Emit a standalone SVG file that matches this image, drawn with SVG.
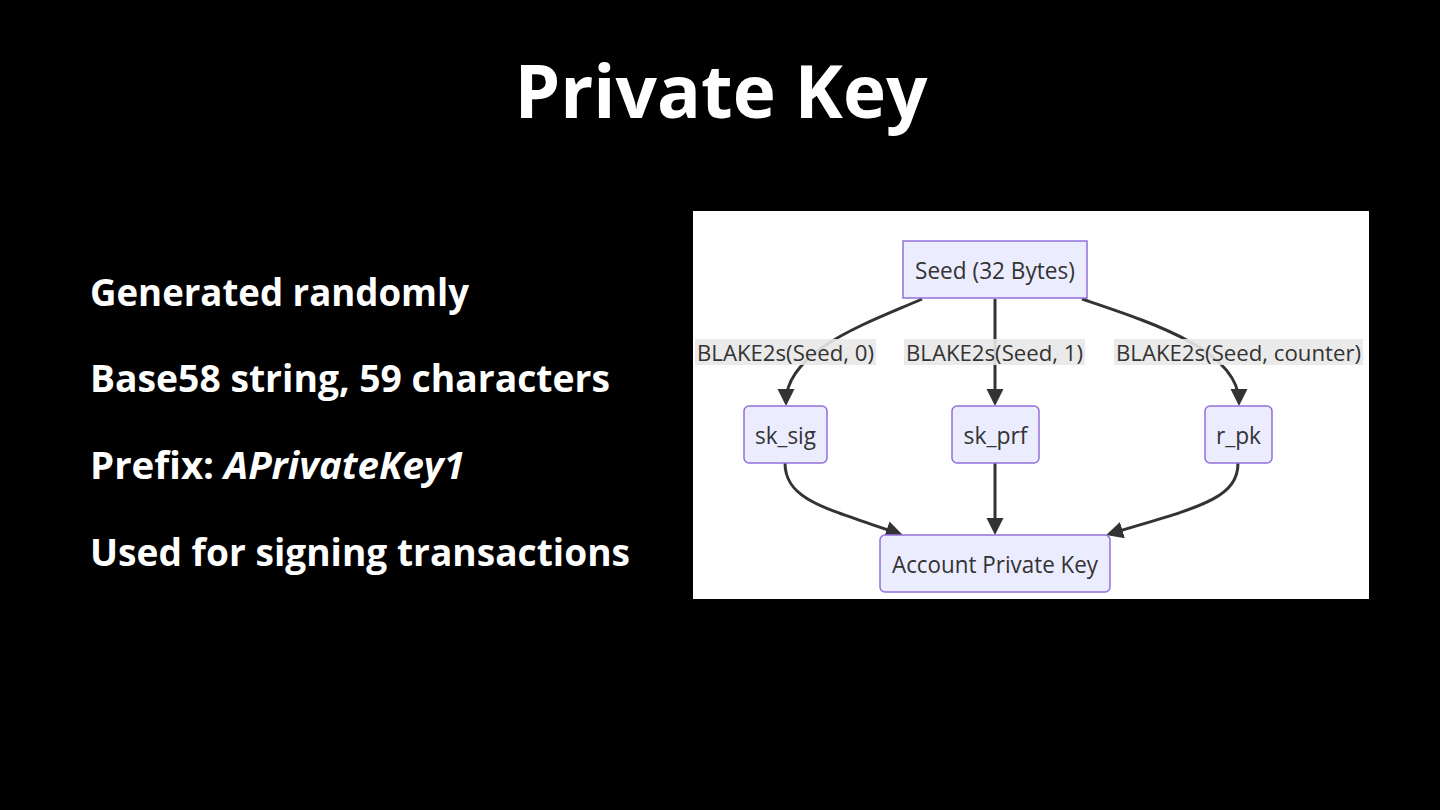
<svg xmlns="http://www.w3.org/2000/svg" width="1440" height="810" viewBox="0 0 1440 810">
<defs>
<style>
.title{font-family:"Open Sans","Liberation Sans",sans-serif;font-weight:700;font-size:74px;fill:#ffffff}
.bullet{font-family:"Open Sans","Liberation Sans",sans-serif;font-weight:700;font-size:38px;fill:#ffffff}
.node rect{fill:#ECECFF;stroke:#9370DB;stroke-width:1.5}
.node text{font-family:"Open Sans","Liberation Sans",sans-serif;font-size:23px;fill:#333333;text-anchor:middle;dominant-baseline:central}
.elabel rect{fill:#e8e8e8;opacity:0.9}
.elabel text{font-family:"Open Sans","Liberation Sans",sans-serif;font-size:22px;fill:#333333;text-anchor:middle;dominant-baseline:central}
.edge{fill:none;stroke:#333333;stroke-width:3}
</style>
<marker id="arrow" markerUnits="userSpaceOnUse" markerWidth="18" markerHeight="18" viewBox="0 0 18 18" refX="13" refY="8.5" orient="auto">
<path d="M0,0 L17,8.5 L0,17 Z" fill="#333333"/>
</marker>
</defs>
<rect x="0" y="0" width="1440" height="810" fill="#000000"/>
<text class="title" x="721" y="118" text-anchor="middle" textLength="413" lengthAdjust="spacingAndGlyphs">Private Key</text>
<g id="bullets">
<text class="bullet" x="90" y="306" textLength="379" lengthAdjust="spacingAndGlyphs">Generated randomly</text>
<text class="bullet" x="90" y="392" textLength="520" lengthAdjust="spacingAndGlyphs">Base58 string, 59 characters</text>
<text class="bullet" x="90" y="479" textLength="375" lengthAdjust="spacingAndGlyphs">Prefix: <tspan font-style="italic">APrivateKey1</tspan></text>
<text class="bullet" x="90" y="566" textLength="540" lengthAdjust="spacingAndGlyphs">Used for signing transactions</text>
</g>
<rect id="panel" x="693" y="211" width="676" height="388" fill="#ffffff"/>
<g id="connectors">
<path class="edge" d="M922,299 C870,322 786,350 786,402" marker-end="url(#arrow)"/>
<path class="edge" d="M995,299 L995,402" marker-end="url(#arrow)"/>
<path class="edge" d="M1082,299 C1150,322 1239,350 1239,402" marker-end="url(#arrow)"/>
<path class="edge" d="M785,463 C785,500 825,508 899,533.7" marker-end="url(#arrow)"/>
<path class="edge" d="M995,463 L995,531" marker-end="url(#arrow)"/>
<path class="edge" d="M1238,463 C1238,500 1195,508 1110,533.8" marker-end="url(#arrow)"/>
<g class="elabel">
<rect x="695" y="339" width="181" height="26"/>
<text x="785.5" y="352" textLength="177" lengthAdjust="spacingAndGlyphs">BLAKE2s(Seed, 0)</text>
</g>
<g class="elabel">
<rect x="904" y="339" width="181" height="26"/>
<text x="994.5" y="352" textLength="177" lengthAdjust="spacingAndGlyphs">BLAKE2s(Seed, 1)</text>
</g>
<g class="elabel">
<rect x="1114" y="339" width="249" height="26"/>
<text x="1238.5" y="352" textLength="245" lengthAdjust="spacingAndGlyphs">BLAKE2s(Seed, counter)</text>
</g>
</g>
<g id="seed" class="node">
<rect x="903" y="241" width="184" height="57"/>
<text x="995" y="270" textLength="160" lengthAdjust="spacingAndGlyphs">Seed (32 Bytes)</text>
</g>
<g id="sk_sig" class="node">
<rect x="744" y="406" width="83" height="57" rx="5"/>
<text x="785.5" y="435" textLength="61" lengthAdjust="spacingAndGlyphs">sk_sig</text>
</g>
<g id="sk_prf" class="node">
<rect x="952" y="406" width="87" height="57" rx="5"/>
<text x="995.5" y="435" textLength="64" lengthAdjust="spacingAndGlyphs">sk_prf</text>
</g>
<g id="r_pk" class="node">
<rect x="1205" y="406" width="67" height="57" rx="5"/>
<text x="1238.5" y="435" textLength="45" lengthAdjust="spacingAndGlyphs">r_pk</text>
</g>
<g id="account" class="node">
<rect x="880" y="535" width="230" height="57" rx="5"/>
<text x="995" y="564" textLength="206" lengthAdjust="spacingAndGlyphs">Account Private Key</text>
</g>
</svg>
